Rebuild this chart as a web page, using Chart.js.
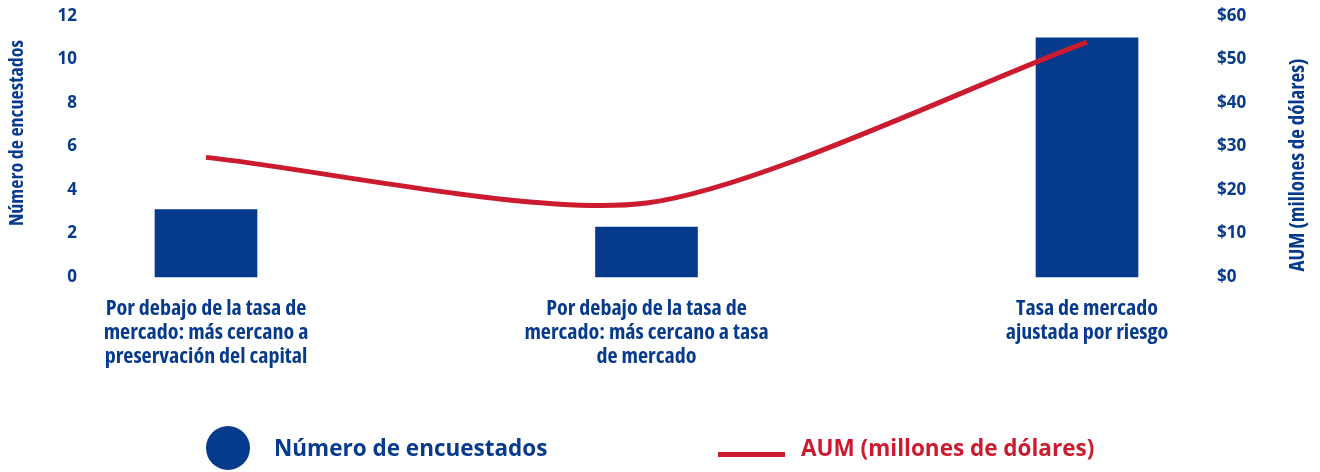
<!DOCTYPE html>
<html>
<head>
<meta charset="utf-8">
<script src="https://cdn.jsdelivr.net/npm/chart.js@4.4.1/dist/chart.umd.min.js"></script>
<style>
  body { margin: 0; background: #fff; }
  .wrap { position: relative; width: 1320px; height: 472px; }
  .legend-item { position: absolute; font-family: "Open Sans", sans-serif; font-weight: 700; font-size: 22.5px; line-height: 30px; white-space: nowrap; }
  .dot { position: absolute; left: 206px; top: 426px; width: 44px; height: 44px; border-radius: 50%; background: #063a8c; }
  .dash { position: absolute; left: 718px; top: 452px; width: 67px; height: 5px; background: #cc1a2e; }
</style>
</head>
<body>
<div class="wrap">
  <canvas class="my-chart" width="1320" height="472"></canvas>
  <div class="dot"></div>
  <div class="legend-item" style="left:274px; top:433px; color:#063a8c;">Número de encuestados</div>
  <div class="dash"></div>
  <div class="legend-item" style="left:801px; top:433px; color:#cc1a2e;">AUM (millones de dólares)</div>
</div>
<script>
// Encuestados vs AUM por tipo de tasa
const categories = [
    ["Por debajo de la tasa de", "mercado: más cercano a", "preservación del capital"],
    ["Por debajo de la tasa de", "mercado: más cercano a tasa", "de mercado"],
    ["Tasa de mercado", "ajustada por riesgo"],
];
const encuestados = [3.1, 2.3, 11];
const aum = [27.5, 17, 54];
const leftTicks = [0, 2, 4, 6, 8, 10, 12];
const rightTicks = [0, 10, 20, 30, 40, 50, 60];

const blue = "#063a8c";
const red = "#cc1a2e";
const narrow = '"Open Sans", "DejaVu Sans", sans-serif';

// axis titles, both read bottom to top
const axisTitles = {
    id: "axisTitles",
    afterDraw(chart) {
        const ctx = chart.ctx;
        ctx.save();
        ctx.fillStyle = blue;
        ctx.textAlign = "center";
        ctx.textBaseline = "middle";
        [["Número de encuestados", 17, 133, 20], ["AUM (millones de dólares)", 1298, 165, 21]].forEach(([t, x, y, size]) => {
            ctx.save();
            ctx.font = "condensed bold " + size + "px " + narrow;
            ctx.translate(x, y);
            ctx.rotate(-Math.PI / 2);
            ctx.fillText(t, 0, 0);
            ctx.restore();
        });
        ctx.restore();
    },
};

// y axes: fixed width, no extra top/bottom padding from the big tick padding
const fixY = (w) => (s) => {
    s.width = w;
    s.paddingTop = 0;
    s.paddingBottom = 0;
};

const myChart = document.querySelector(".my-chart");

new Chart(myChart, {
    type: "bar",
    data: {
        labels: categories,
        datasets: [
            {
                type: "line",
                label: "AUM (millones de dólares)",
                data: aum,
                yAxisID: "y1",
                borderColor: red,
                borderWidth: 5,
                pointRadius: 0,
                tension: 0.25,
                clip: false,
                order: 0,
            },
            {
                label: "Número de encuestados",
                data: encuestados,
                yAxisID: "y",
                backgroundColor: blue,
                barThickness: 102,
                clip: false,
                order: 1,
            },
        ],
    },
    options: {
        responsive: false,
        animation: false,
        layout: { padding: { top: 16 } },
        plugins: {
            legend: { display: false },
            tooltip: { enabled: false },
        },
        scales: {
            x: {
                offset: false,
                grid: { display: false, drawTicks: false },
                border: { display: false },
                ticks: {
                    color: blue,
                    autoSkip: false,
                    maxRotation: 0,
                    padding: 20,
                    font: { family: narrow, weight: "condensed bold", size: 22, lineHeight: 24 / 22 },
                },
                afterFit: (s) => { s.height = 195; },
            },
            y: {
                position: "left",
                min: 0,
                max: 12,
                grid: { display: false, drawTicks: false },
                border: { display: false },
                afterBuildTicks: (s) => { s.ticks = leftTicks.map((v) => ({ value: v })); },
                ticks: {
                    color: blue,
                    padding: 129,
                    font: { family: "Open Sans", weight: "bold", size: 17 },
                },
                afterFit: fixY(206),
            },
            y1: {
                position: "right",
                min: 0,
                max: 60,
                grid: { display: false, drawTicks: false },
                border: { display: false },
                afterBuildTicks: (s) => { s.ticks = rightTicks.map((v) => ({ value: v })); },
                ticks: {
                    color: blue,
                    padding: 130,
                    font: { family: "Open Sans", weight: "bold", size: 17 },
                    callback: (v) => "$" + v,
                },
                afterFit: fixY(233),
            },
        },
    },
    plugins: [axisTitles],
});
</script>
</body>
</html>
